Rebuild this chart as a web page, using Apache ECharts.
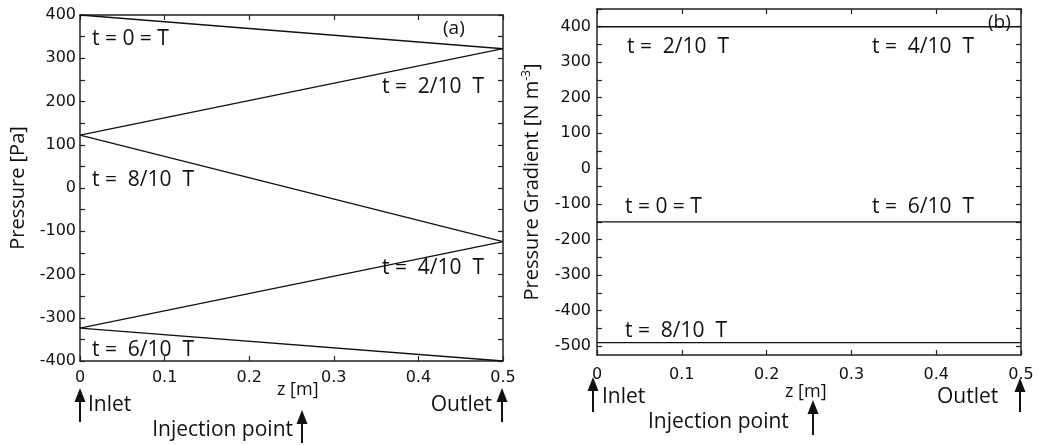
<!DOCTYPE html>
<html>
<head>
<meta charset="utf-8">
<script src="https://cdn.jsdelivr.net/npm/echarts@6/dist/echarts.min.js"></script>
<style>
html,body{margin:0;padding:0;background:#fff;}
#c{width:1039px;height:445px;}
</style>
</head>
<body>
<div id="c"></div>
<script>
// ---- data ----
const zPos = [0, 0.5];
// panel (a): pressure [Pa] at inlet and outlet
const pT0 = [400, 322];
const pT2 = [122, 322];
const pT8 = [122, -124];
const pT4 = [-324, -124];
const pT6 = [-324, -400];
// panel (b): pressure gradient [N m^-3]
const gT2T4 = [400, 400];
const gT0T6 = [-150, -150];
const gT8 = [-490, -490];
const xTicks = [0, 0.1, 0.2, 0.3, 0.4, 0.5];
const yTicksA = [-400, -300, -200, -100, 0, 100, 200, 300, 400];
const yTicksB = [-500, -400, -300, -200, -100, 0, 100, 200, 300, 400];

const chart = echarts.init(document.getElementById('c'), null, {renderer: 'canvas'});
const INK = '#111';
const tickFont = {fontFamily: 'DejaVu Sans', fontSize: 16, color: INK};
const txtFont = 'Open Sans';

function pairs(ys) { return zPos.map((z, i) => [z, ys[i]]); }
function minorTicks(min, max, step) { const r = []; for (let v = min; v <= max + 1e-9; v += step) r.push(v); return r; }

const axisLine = {show: true, onZero: false, lineStyle: {color: '#222', width: 1.5}};
const tick = {show: true, inside: true, length: 5, lineStyle: {color: '#222', width: 1.2}};

function xAxes(grid, margin) {
  return [
    {gridIndex: grid, type: 'value', min: 0, max: 0.5, position: 'bottom',
     axisLine, splitLine: {show: false},
     axisTick: Object.assign({customValues: xTicks}, tick),
     axisLabel: Object.assign({margin: margin, customValues: xTicks,
       formatter: v => v === 0 ? '0' : (+v.toFixed(1)).toString()}, tickFont)},
    {gridIndex: grid, type: 'value', min: 0, max: 0.5, position: 'top',
     axisLine, splitLine: {show: false},
     axisTick: Object.assign({customValues: xTicks}, tick),
     axisLabel: {show: false}}
  ];
}

const seriesLine = (data, xi, yi) => ({
  type: 'line', xAxisIndex: xi, yAxisIndex: yi, data: data, symbol: 'none',
  lineStyle: {color: INK, width: 1.3}, silent: true, animation: false
});

const texts = [];
function T(text, x, y, size, align) {
  texts.push({type: 'text', x: x, y: y, silent: true, z: 50,
    style: {text: text, font: size + 'px "' + txtFont + '"', fill: INK, textAlign: align || 'left', textVerticalAlign: 'middle'}});
}
function arrow(x, tip, bottom) {
  texts.push({type: 'group', silent: true, children: [
    {type: 'line', shape: {x1: x, y1: tip + 10, x2: x, y2: bottom}, style: {stroke: INK, lineWidth: 2}},
    {type: 'polygon', shape: {points: [[x, tip], [x - 5.5, tip + 14], [x + 5.5, tip + 14]]}, style: {fill: INK}}
  ]});
}
// panel (a) annotations
T('t = 0 = T', 92, 39, 21);
T('(a)', 443, 29, 19);
T('t =  2/10  T', 382, 87, 21);
T('t =  8/10  T', 92, 180, 21);
T('t =  4/10  T', 382, 268, 21);
T('t =  6/10  T', 92, 350, 21);
T('z [m]', 277, 390, 18);
T('Inlet', 88, 405, 21);
T('Outlet', 492, 405, 21, 'right');
T('Injection point', 293, 430, 21, 'right');
arrow(80, 388, 422); arrow(302, 410, 443); arrow(502, 388, 422);
// panel (b) annotations
T('t =  2/10  T', 627, 47, 21);
T('t =  4/10  T', 872, 47, 21);
T('(b)', 988, 23, 19);
T('t = 0 = T', 625, 207, 21);
T('t =  6/10  T', 872, 207, 21);
T('t =  8/10  T', 625, 331, 21);
T('z [m]', 785, 392, 18);
T('Inlet', 602, 397, 21);
T('Outlet', 937, 397, 21);
T('Injection point', 648, 422, 21);
arrow(593, 377, 412); arrow(813, 400, 435); arrow(1020, 378, 412);

const option = {
  backgroundColor: '#fff',
  animation: false,
  grid: [
    {left: 80, right: 536, top: 15, bottom: 84, containLabel: false},
    {left: 597, right: 18, top: 9, bottom: 90, containLabel: false}
  ],
  xAxis: [].concat(xAxes(0, 9), xAxes(1, 12)),
  yAxis: [
    {gridIndex: 0, type: 'value', min: -400, max: 400, position: 'left',
     axisLine, splitLine: {show: false},
     axisTick: Object.assign({customValues: minorTicks(-400, 400, 50)}, tick),
     axisLabel: Object.assign({margin: 4, customValues: yTicksA}, tickFont),
     name: 'Pressure [Pa]', nameLocation: 'middle', nameGap: 52, nameRotate: 90,
     nameTextStyle: {fontFamily: txtFont, fontSize: 20, color: INK}},
    {gridIndex: 0, type: 'value', min: -400, max: 400, position: 'right',
     axisLine, splitLine: {show: false},
     axisTick: Object.assign({customValues: minorTicks(-400, 400, 50)}, tick),
     axisLabel: {show: false}},
    {gridIndex: 1, type: 'value', min: -525, max: 450, position: 'left',
     axisLine, splitLine: {show: false},
     axisTick: Object.assign({customValues: minorTicks(-500, 450, 50)}, tick),
     axisLabel: Object.assign({margin: 6, customValues: yTicksB}, tickFont),
     name: 'Pressure Gradient [N m{sup|-3}]', nameLocation: 'middle', nameGap: 54, nameRotate: 90,
     nameTextStyle: {fontFamily: txtFont, fontSize: 20, color: INK,
       rich: {sup: {fontFamily: txtFont, fontSize: 12, color: INK, verticalAlign: 'top', padding: [0, 0, 10, 0]}}}},
    {gridIndex: 1, type: 'value', min: -525, max: 450, position: 'right',
     axisLine, splitLine: {show: false},
     axisTick: Object.assign({customValues: minorTicks(-500, 450, 50)}, tick),
     axisLabel: {show: false}}
  ],
  series: [
    seriesLine(pairs(pT0), 0, 0),
    seriesLine(pairs(pT2), 0, 0),
    seriesLine(pairs(pT8), 0, 0),
    seriesLine(pairs(pT4), 0, 0),
    seriesLine(pairs(pT6), 0, 0),
    seriesLine(pairs(gT2T4), 2, 2),
    seriesLine(pairs(gT0T6), 2, 2),
    seriesLine(pairs(gT8), 2, 2)
  ],
  graphic: texts
};
chart.setOption(option);
</script>
</body>
</html>
